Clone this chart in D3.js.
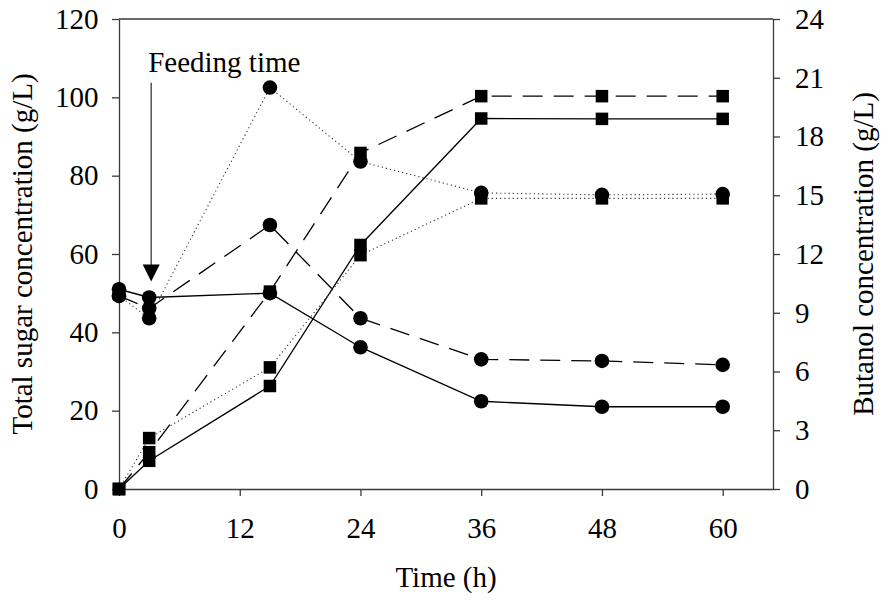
<!DOCTYPE html>
<html>
<head>
<meta charset="utf-8">
<script src="https://cdn.jsdelivr.net/npm/d3@7"></script>
<style>
  html, body { margin: 0; padding: 0; background: #fff; }
  svg { display: block; }
  svg text { font-family: 'Liberation Serif', 'Times New Roman', Times, Tinos, 'DejaVu Serif', serif !important; fill: #000; }
</style>
</head>
<body>
<svg id="chart" width="883" height="603"></svg>
<script>
// ---- data ----
const time = [0, 3, 15, 24, 36, 48, 60];
// Total sugar (g/L), left axis, circles
const sugarSolid  = [51.0, 48.9, 50.0, 36.2, 22.4, 21.0, 21.0];
const sugarDashed = [49.3, 46.1, 67.4, 43.6, 33.1, 32.7, 31.7];
const sugarDotted = [49.3, 43.6, 102.5, 83.6, 75.6, 75.1, 75.3];
// Butanol (g/L), right axis, squares
const butSolid  = [0, 1.44, 5.26, 12.46, 18.92, 18.90, 18.90];
const butDashed = [0, 1.88, 10.08, 17.16, 20.06, 20.06, 20.06];
const butDotted = [0, 2.60, 6.21, 11.94, 14.84, 14.84, 14.84];

const xTicks = [0, 12, 24, 36, 48, 60];
const yLeftTicks = [0, 20, 40, 60, 80, 100, 120];
const yRightTicks = [0, 3, 6, 9, 12, 15, 18, 21, 24];
const feedTime = 3.2;
const feedLabel = "Feeding time";

// ---- layout ----
const W = 883, H = 603;
const m = { left: 119, top: 19, right: 110, bottom: 114 };
const iw = W - m.left - m.right, ih = H - m.top - m.bottom;

const svg = d3.select("#chart");
const g = svg.append("g").attr("transform", `translate(${m.left},${m.top})`);

const x = d3.scaleLinear().domain([0, 65]).range([0, iw]);
const yL = d3.scaleLinear().domain([0, 120]).range([ih, 0]);
const yR = d3.scaleLinear().domain([0, 24]).range([ih, 0]);

const axisColor = "#3a3a3a";
const fs = 29;
const serif = "'Liberation Serif', 'Times New Roman', Times, Tinos, 'DejaVu Serif', serif";

// frame top line
g.append("line").attr("x1", 0).attr("x2", iw).attr("y1", 0).attr("y2", 0)
  .attr("stroke", axisColor).attr("stroke-width", 1.3);

function styleAxis(sel) {
  sel.attr("font-family", null).attr("font-size", null);
  sel.select(".domain").attr("stroke", axisColor).attr("stroke-width", 1.3);
  sel.selectAll(".tick line").attr("stroke", axisColor).attr("stroke-width", 1.3);
  sel.selectAll(".tick text").style("font-size", fs + "px")
    .style("font-family", serif).attr("fill", "#000");
}

const gx = g.append("g").attr("transform", `translate(0,${ih})`)
  .call(d3.axisBottom(x).tickValues(xTicks).tickSize(7).tickSizeOuter(0).tickPadding(21.5));
styleAxis(gx);

const gyl = g.append("g")
  .call(d3.axisLeft(yL).tickValues(yLeftTicks).tickSize(7).tickSizeOuter(0).tickPadding(13.5));
styleAxis(gyl);

const gyr = g.append("g").attr("transform", `translate(${iw},0)`)
  .call(d3.axisRight(yR).tickValues(yRightTicks).tickSize(7).tickSizeOuter(0).tickPadding(15));
styleAxis(gyr);

function label(sel) {
  return sel.style("font-family", serif).style("font-size", fs + "px");
}

// axis titles
label(svg.append("text").attr("x", m.left + iw / 2).attr("y", 587)
  .attr("text-anchor", "middle")).text("Time (h)");
label(svg.append("text").attr("transform", `translate(32,${m.top + ih / 2}) rotate(-90)`)
  .attr("text-anchor", "middle")).text("Total sugar concentration (g/L)");
label(svg.append("text").attr("transform", `translate(873,${m.top + ih / 2}) rotate(-90)`)
  .attr("text-anchor", "middle")).text("Butanol concentration (g/L)");

// series
const styles = { solid: null, dashed: "20,11", dotted: "1.2,3" };
const series = [
  { vals: sugarSolid, y: yL, dash: styles.solid, shape: "circle" },
  { vals: sugarDashed, y: yL, dash: styles.dashed, shape: "circle" },
  { vals: sugarDotted, y: yL, dash: styles.dotted, shape: "circle" },
  { vals: butSolid, y: yR, dash: styles.solid, shape: "square" },
  { vals: butDashed, y: yR, dash: styles.dashed, shape: "square" },
  { vals: butDotted, y: yR, dash: styles.dotted, shape: "square" }
];

series.forEach(s => {
  const line = d3.line().x((d, i) => x(time[i])).y(d => s.y(d));
  g.append("path").datum(s.vals).attr("d", line)
    .attr("fill", "none").attr("stroke", s.dash === styles.dotted ? "#333" : "#000")
    .attr("stroke-width", s.dash === styles.dotted ? 1.1 : 1.3)
    .attr("stroke-dasharray", s.dash);
});

series.forEach(s => {
  const pts = s.vals.map((v, i) => [x(time[i]), s.y(v)]);
  if (s.shape === "circle") {
    g.selectAll(null).data(pts).enter().append("circle")
      .attr("cx", d => d[0]).attr("cy", d => d[1]).attr("r", 7.3).attr("fill", "#000");
  } else {
    const a = 12.5;
    g.selectAll(null).data(pts).enter().append("rect")
      .attr("x", d => d[0] - a / 2).attr("y", d => d[1] - a / 2)
      .attr("width", a).attr("height", a).attr("fill", "#000");
  }
});

// feeding time annotation
const fx = x(feedTime);
const tipY = yL(53.0);
g.append("line").attr("x1", fx).attr("x2", fx)
  .attr("y1", yL(103.7)).attr("y2", tipY - 16)
  .attr("stroke", axisColor).attr("stroke-width", 1.3);
g.append("path")
  .attr("d", `M${fx - 8.5},${tipY - 17} L${fx + 8.5},${tipY - 17} L${fx},${tipY} Z`)
  .attr("fill", "#000");
label(g.append("text").attr("x", x(2.9)).attr("y", yL(106.5))).text(feedLabel);
</script>
</body>
</html>
